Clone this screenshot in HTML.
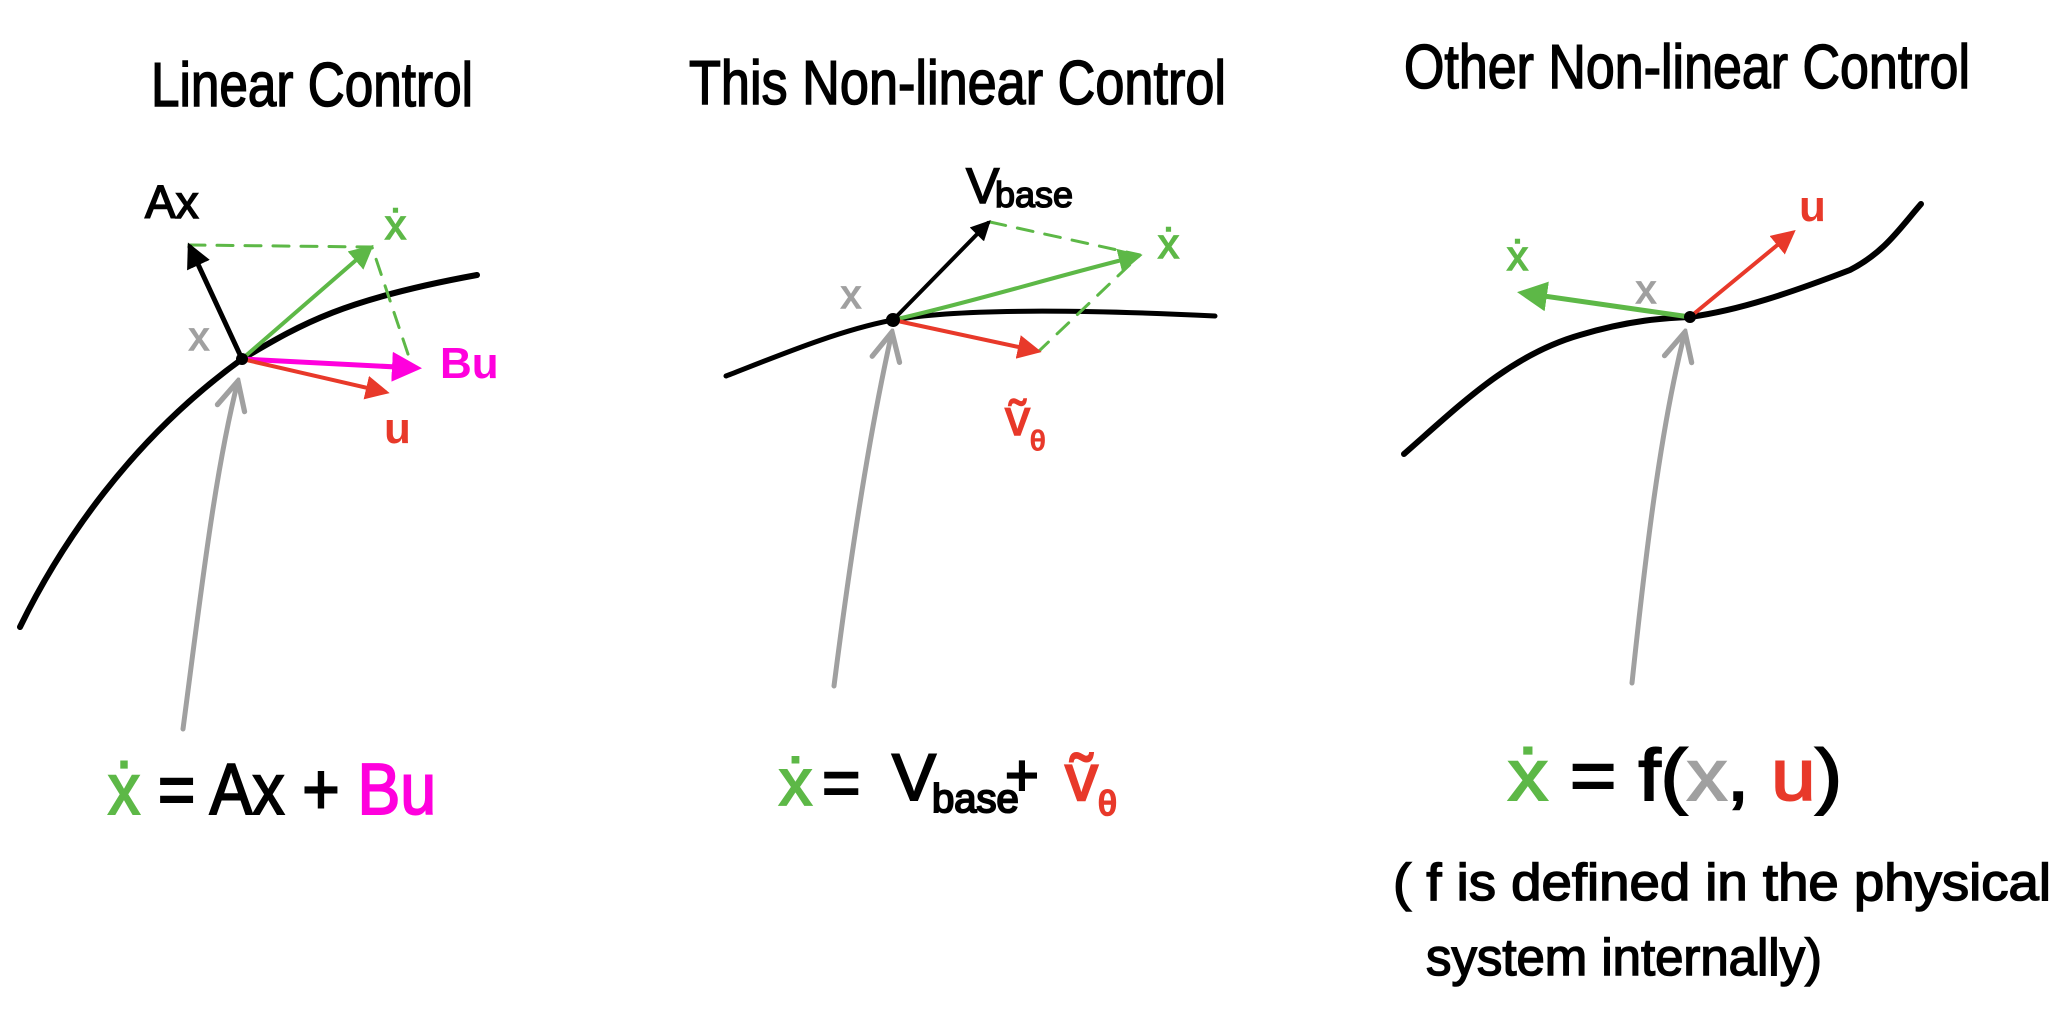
<!DOCTYPE html>
<html><head><meta charset="utf-8"><style>
html,body{margin:0;padding:0;background:#fff;}
svg{display:block;}
text{font-family:"Liberation Sans",sans-serif;}
</style></head><body>
<svg width="2059" height="1025" viewBox="0 0 2059 1025" xmlns="http://www.w3.org/2000/svg">
<defs>
<marker id="mk" viewBox="0 0 10 10" refX="8" refY="5" markerWidth="5" markerHeight="5" orient="auto" markerUnits="strokeWidth"><path d="M0,0 L10,5 L0,10 z" fill="#000"/></marker>
<marker id="mg" viewBox="0 0 10 10" refX="8" refY="5" markerWidth="6" markerHeight="6" orient="auto" markerUnits="strokeWidth"><path d="M0,0 L10,5 L0,10 z" fill="#5db847"/></marker>
<marker id="mr" viewBox="0 0 10 10" refX="8" refY="5" markerWidth="6" markerHeight="6" orient="auto" markerUnits="strokeWidth"><path d="M0,0 L10,5 L0,10 z" fill="#e8392a"/></marker>
<marker id="mm" viewBox="0 0 10 10" refX="8" refY="5" markerWidth="6" markerHeight="6" orient="auto" markerUnits="strokeWidth"><path d="M0,0 L10,5 L0,10 z" fill="#ff00dd"/></marker>
<marker id="mgr" viewBox="0 0 10 10" refX="9" refY="5" markerWidth="7" markerHeight="7" orient="auto" markerUnits="strokeWidth"><path d="M1,1 L9,5 L1,9" fill="none" stroke="#a0a0a0" stroke-width="1.5" stroke-linecap="round"/></marker>
</defs>
<g font-size="62" fill="#000" stroke="#000" stroke-width="1.5">
<text x="151" y="106" textLength="322" lengthAdjust="spacingAndGlyphs">Linear Control</text>
<text x="689" y="104" textLength="537" lengthAdjust="spacingAndGlyphs">This Non-linear Control</text>
<text x="1404" y="88" textLength="566" lengthAdjust="spacingAndGlyphs">Other Non-linear Control</text>
</g>
<g fill="none" stroke-linecap="round" stroke-linejoin="round">
<!-- Panel 1 -->
<path d="M20,627 C60,545 130,440 242,359 C300,325 340,300 477,275" stroke="#000" stroke-width="6"/>
<path d="M183,729 C200,600 215,470 238,381" stroke="#a0a0a0" stroke-width="5" marker-end="url(#mgr)"/>
<path d="M189,245 L372,247 L411,363" stroke="#5db847" stroke-width="3" stroke-dasharray="16,12"/>
<path d="M242,359 L190,247" stroke="#000" stroke-width="5" marker-end="url(#mk)"/>
<path d="M242,359 L370,248" stroke="#5db847" stroke-width="4" marker-end="url(#mg)"/>
<path d="M242,359 L416,368" stroke="#ff00dd" stroke-width="5" marker-end="url(#mm)"/>
<path d="M242,359 L385,392" stroke="#e8392a" stroke-width="4" marker-end="url(#mr)"/>
<!-- Panel 2 -->
<path d="M726,376 C780,355 840,330 893,320 C950,310 1050,308 1215,316" stroke="#000" stroke-width="5"/>
<path d="M834,686 C850,560 870,430 892,332" stroke="#a0a0a0" stroke-width="5" marker-end="url(#mgr)"/>
<path d="M990,222 L1140,255 L1039,351" stroke="#5db847" stroke-width="3" stroke-dasharray="16,12"/>
<path d="M893,320 L988,223" stroke="#000" stroke-width="4" marker-end="url(#mk)"/>
<path d="M893,320 C980,300 1060,275 1138,256" stroke="#5db847" stroke-width="4" marker-end="url(#mg)"/>
<path d="M893,320 L1037,351" stroke="#e8392a" stroke-width="4" marker-end="url(#mr)"/>
<!-- Panel 3 -->
<path d="M1404,454 C1460,405 1510,355 1580,335 C1630,320 1665,318 1690,317 C1740,310 1790,293 1850,270 C1885,252 1900,228 1921,204" stroke="#000" stroke-width="6"/>
<path d="M1632,683 C1645,560 1660,430 1685,332" stroke="#a0a0a0" stroke-width="5" marker-end="url(#mgr)"/>
<path d="M1690,317 L1523,293" stroke="#5db847" stroke-width="5" marker-end="url(#mg)"/>
<path d="M1690,317 L1792,233" stroke="#e8392a" stroke-width="4" marker-end="url(#mr)"/>
</g>
<circle cx="242" cy="359" r="6" fill="#000"/>
<circle cx="893" cy="320" r="7" fill="#000"/>
<circle cx="1690" cy="317" r="6" fill="#000"/>
<!-- labels panel 1 -->
<text x="145" y="218" font-size="46" fill="#000" stroke="#000" stroke-width="1.5">Ax</text>
<text x="385" y="239" font-size="42" fill="#5db847" stroke="#5db847" stroke-width="1.5">ẋ</text>
<text x="189" y="350" font-size="40" fill="#a0a0a0" stroke="#a0a0a0" stroke-width="1.5">x</text>
<text x="440" y="378" font-size="44" font-weight="bold" fill="#ff00dd">Bu</text>
<text x="384" y="443" font-size="44" font-weight="bold" fill="#e8392a">u</text>
<text x="108" y="814" font-size="72" textLength="328" lengthAdjust="spacingAndGlyphs" stroke-width="2"><tspan fill="#5db847" stroke="#5db847">ẋ</tspan><tspan fill="#000" stroke="#000"> = Ax + </tspan><tspan fill="#ff00dd" stroke="#ff00dd">Bu</tspan></text>
<!-- labels panel 2 -->
<g stroke-width="1.5">
<text x="966" y="203" font-size="50" fill="#000" stroke="#000">V</text>
<text x="995" y="207" font-size="36" fill="#000" stroke="#000">base</text>
<text x="1158" y="258" font-size="42" fill="#5db847" stroke="#5db847">ẋ</text>
<text x="841" y="308" font-size="40" fill="#a0a0a0" stroke="#a0a0a0">x</text>
<text x="1005" y="435" font-size="50" fill="#e8392a" stroke="#e8392a">ṽ</text>
<text x="1030" y="450" font-size="28" fill="#e8392a" stroke="#e8392a">θ</text>
</g>
<g stroke-width="2">
<text x="779" y="805" font-size="66" fill="#5db847" stroke="#5db847">ẋ</text>
<text x="822" y="805" font-size="66" fill="#000" stroke="#000">=</text>
<text x="892" y="800" font-size="66" fill="#000" stroke="#000">V</text>
<text x="932" y="812" font-size="40" fill="#000" stroke="#000">base</text>
<text x="1005" y="795" font-size="58" fill="#000" stroke="#000">+</text>
<text x="1065" y="800" font-size="66" fill="#e8392a" stroke="#e8392a">ṽ</text>
<text x="1098" y="815" font-size="34" fill="#e8392a" stroke="#e8392a">θ</text>
</g>
<!-- labels panel 3 -->
<text x="1507" y="270" font-size="42" fill="#5db847" stroke="#5db847" stroke-width="1.5">ẋ</text>
<text x="1636" y="303" font-size="40" fill="#a0a0a0" stroke="#a0a0a0" stroke-width="1.5">x</text>
<text x="1799" y="221" font-size="44" font-weight="bold" fill="#e8392a">u</text>
<text x="1508" y="800" font-size="72" textLength="334" lengthAdjust="spacingAndGlyphs" stroke-width="2"><tspan fill="#5db847" stroke="#5db847">ẋ</tspan><tspan fill="#000" stroke="#000"> = f(</tspan><tspan fill="#a0a0a0" stroke="#a0a0a0">x</tspan><tspan fill="#000" stroke="#000">, </tspan><tspan fill="#e8392a" stroke="#e8392a">u</tspan><tspan fill="#000" stroke="#000">)</tspan></text>
<text x="1393" y="900" font-size="52" fill="#000" stroke="#000" stroke-width="1.5" textLength="658" lengthAdjust="spacingAndGlyphs">( f is defined in the physical</text>
<text x="1426" y="975" font-size="52" fill="#000" stroke="#000" stroke-width="1.5" textLength="396" lengthAdjust="spacingAndGlyphs">system internally)</text>
</svg>
</body></html>
